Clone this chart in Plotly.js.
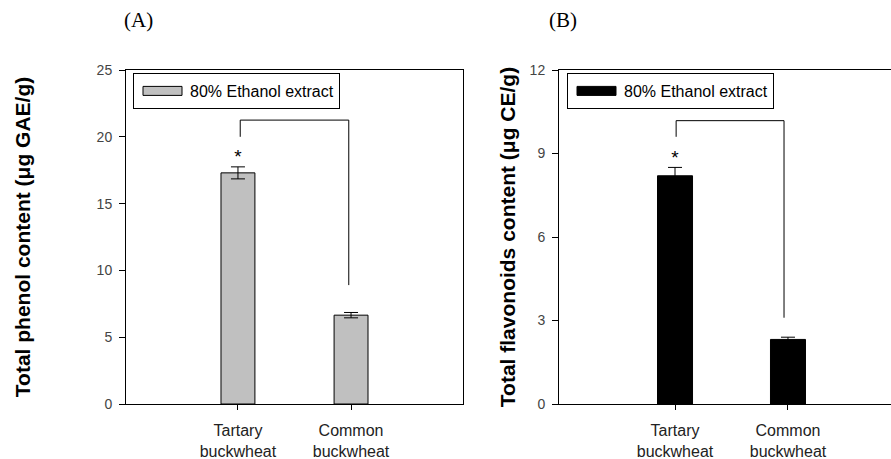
<!DOCTYPE html>
<html>
<head>
<meta charset="utf-8">
<script src="https://cdn.plot.ly/plotly-3.0.1.min.js"></script>
<style>html,body{margin:0;padding:0;background:#fff;}</style>
</head>
<body>
<div id="chart" style="width:891px;height:459px;"></div>
<script>
// ---- data ----
const categories = ['Tartary buckwheat', 'Common buckwheat'];
const tickLabels = ['Tartary<br>buckwheat', 'Common<br>buckwheat'];
const catPos = [0, 1];
const seriesName = '80% Ethanol extract';
const phenol = [17.3, 6.65];
const phenolErr = [0.45, 0.2];
const flavonoids = [8.2, 2.32];
const flavonoidsErr = [0.3, 0.08];
// significance brackets (data units)
const bracketAx = [0.02, 0.02, 0.98, 0.98];
const bracketAy = [20.0, 21.25, 21.25, 8.9];
const bracketBx = [0.01, 0.01, 0.965, 0.965];
const bracketBy = [9.6, 10.18, 10.18, 3.1];
const starAx = [0], starAy = [18.4];
const starBx = [0], starBy = [8.8];

const FONT = 'Arial, "Liberation Sans", sans-serif';

const traces = [
  {type:'bar', x:catPos, y:phenol, name:seriesName, width:0.3,
   marker:{color:'#c0c0c0', line:{color:'#000', width:1}},
   error_y:{type:'data', array:phenolErr, visible:true, color:'#000', thickness:1, width:7},
   xaxis:'x', yaxis:'y', legend:'legend', hoverinfo:'y'},
  {type:'scatter', mode:'lines', x:bracketAx, y:bracketAy, line:{color:'#000', width:1},
   xaxis:'x', yaxis:'y', showlegend:false, hoverinfo:'skip'},
  {type:'scatter', mode:'text', x:starAx, y:starAy, text:['*'], textfont:{size:19, color:'#000', family:FONT},
   xaxis:'x', yaxis:'y', showlegend:false, hoverinfo:'skip'},

  {type:'bar', x:catPos, y:flavonoids, name:seriesName, width:0.31,
   marker:{color:'#000', line:{color:'#000', width:1}},
   error_y:{type:'data', array:flavonoidsErr, visible:true, color:'#000', thickness:1, width:7},
   xaxis:'x2', yaxis:'y2', legend:'legend2', hoverinfo:'y'},
  {type:'scatter', mode:'lines', x:bracketBx, y:bracketBy, line:{color:'#000', width:1},
   xaxis:'x2', yaxis:'y2', showlegend:false, hoverinfo:'skip'},
  {type:'scatter', mode:'text', x:starBx, y:starBy, text:['*'], textfont:{size:19, color:'#000', family:FONT},
   xaxis:'x2', yaxis:'y2', showlegend:false, hoverinfo:'skip'}
];

const W = 891, H = 459;
const yDom = [(H-404)/H, (H-70)/H];

const xCommon = {
  tickvals: catPos, ticktext: tickLabels,
  showline:true, linecolor:'#000', linewidth:1, mirror:true,
  ticks:'outside', ticklen:5, tickcolor:'#000', tickwidth:1,
  showgrid:false, zeroline:false, ticklabelstandoff:7,
  tickfont:{size:16, color:'#222', family:FONT}, fixedrange:true
};
const yCommon = {
  showline:true, linecolor:'#000', linewidth:1,
  ticks:'outside', ticklen:6, tickcolor:'#000', tickwidth:1,
  showgrid:false, zeroline:false, ticklabelstandoff:4,
  tickfont:{size:14, color:'#444', family:FONT}, fixedrange:true
};
const legendCommon = {xanchor:'left', yanchor:'top', bgcolor:'#fff', bordercolor:'#000', borderwidth:1,
  itemwidth:46, font:{size:16, family:FONT, color:'#000'}};

const layout = {
  width:W, height:H, margin:{l:0, r:0, t:0, b:0},
  paper_bgcolor:'#fff', plot_bgcolor:'#fff',
  font:{family:FONT, color:'#000'},
  showlegend:true,
  xaxis: Object.assign({}, xCommon, {domain:[126/W, 463/W], range:[-0.99, 1.99], anchor:'y'}),
  yaxis: Object.assign({}, yCommon, {domain:yDom, range:[0,25], tick0:0, dtick:5, mirror:true, anchor:'x',
    title:{text:'<b>Total phenol content (μg GAE/g)</b>', font:{size:21, family:FONT, color:'#000'}, standoff:60}}),
  xaxis2: Object.assign({}, xCommon, {domain:[559/W, 1], range:[-1.027, 1.912], anchor:'y2'}),
  yaxis2: Object.assign({}, yCommon, {domain:yDom, range:[0,12], tick0:0, dtick:3, mirror:false, anchor:'x2',
    title:{text:'<b>Total flavonoids content (μg CE/g)</b>', font:{size:21, family:FONT, color:'#000'}, standoff:8}}),
  legend: Object.assign({}, legendCommon, {x:133/W, y:(H-73)/H}),
  legend2: Object.assign({}, legendCommon, {x:567/W, y:(H-73)/H}),
  annotations:[
    {text:'(A)', xref:'paper', yref:'paper', x:138.5/W, y:(H-20)/H, xanchor:'center', yanchor:'middle',
     showarrow:false, font:{size:21, family:'"Liberation Serif", "Times New Roman", serif', color:'#000'}},
    {text:'(B)', xref:'paper', yref:'paper', x:563/W, y:(H-20)/H, xanchor:'center', yanchor:'middle',
     showarrow:false, font:{size:21, family:'"Liberation Serif", "Times New Roman", serif', color:'#000'}}
  ]
};

Plotly.newPlot('chart', traces, layout, {displayModeBar:false, staticPlot:true}).then(function(gd){
  // widen the legend swatches into flat bars like the original figure
  gd.querySelectorAll('.legendpoints path').forEach(function(p){
    p.setAttribute('d', 'M-19,4.5H20V-4.5H-19Z');
  });
});
</script>
</body>
</html>
